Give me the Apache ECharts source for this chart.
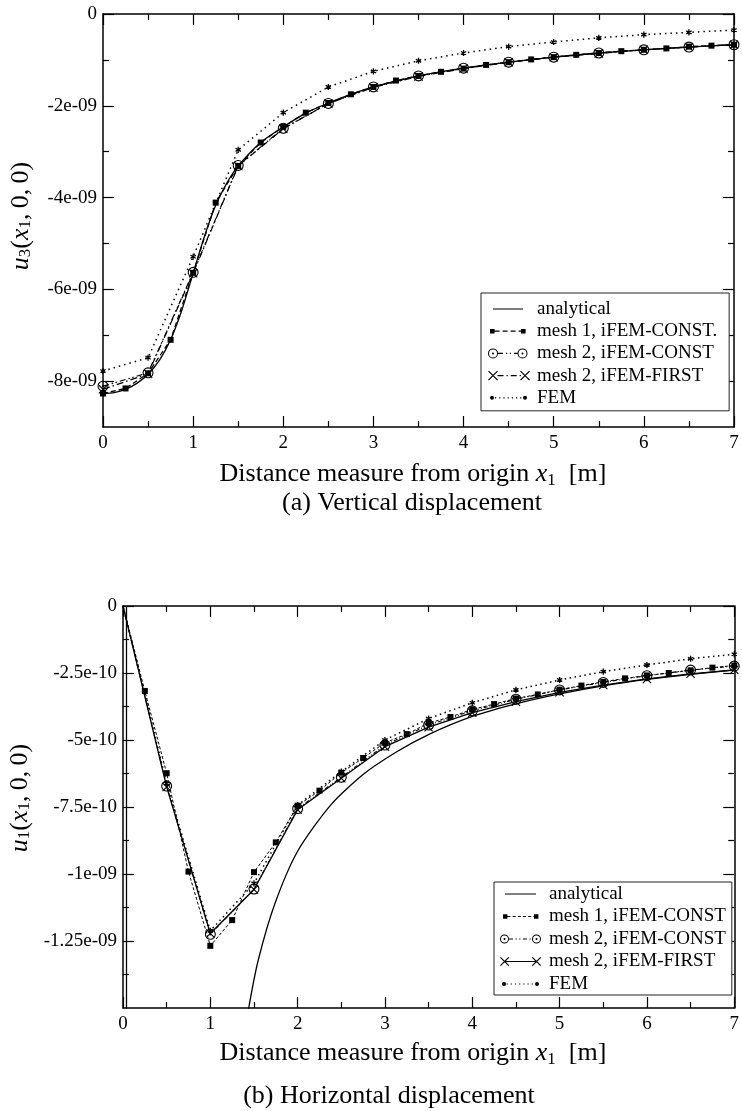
<!DOCTYPE html>
<html>
<head>
<meta charset="utf-8">
<script src="https://cdn.jsdelivr.net/npm/echarts@6/dist/echarts.min.js"></script>
<style>
  html, body { margin: 0; padding: 0; background: #fff; }
  #chartA { width: 742px; height: 555px; }
  #chartB { width: 742px; height: 556px; }
</style>
</head>
<body>
<div id="chartA"></div>
<div id="chartB"></div>
<script>
// ---------------- data ----------------
const xHalf = [0, 0.5, 1, 1.5, 2, 2.5, 3, 3.5, 4, 4.5, 5, 5.5, 6, 6.5, 7];
const xQuarter = [0, 0.25, 0.5, 0.75, 1, 1.25, 1.5, 1.75, 2, 2.25, 2.5, 2.75, 3, 3.25, 3.5,
                  3.75, 4, 4.25, 4.5, 4.75, 5, 5.25, 5.5, 5.75, 6, 6.25, 6.5, 6.75, 7];

// (a) vertical displacement u3(x1,0,0)
const vAnalyticalX = [0, 0.125, 0.25, 0.375, 0.5, 0.625, 0.75, 0.875, 1, 1.125, 1.25, 1.375, 1.5,
                      1.75, 2, 2.25, 2.5, 2.75, 3, 3.5, 4, 4.5, 5, 5.5, 6, 6.5, 7];
const vAnalytical = [-8.27e-9, -8.25e-9, -8.18e-9, -8.05e-9, -7.85e-9, -7.55e-9, -7.10e-9, -6.45e-9,
                     -5.65e-9, -4.85e-9, -4.17e-9, -3.68e-9, -3.31e-9, -2.80e-9, -2.46e-9, -2.16e-9,
                     -1.94e-9, -1.75e-9, -1.59e-9, -1.35e-9, -1.18e-9, -1.05e-9, -0.94e-9, -0.85e-9,
                     -0.78e-9, -0.72e-9, -0.67e-9];
const vMesh1Const = [-8.27e-9, -8.16e-9, -7.83e-9, -7.10e-9, -5.64e-9, -4.11e-9, -3.31e-9, -2.80e-9,
                     -2.46e-9, -2.15e-9, -1.94e-9, -1.75e-9, -1.59e-9, -1.45e-9, -1.35e-9, -1.26e-9,
                     -1.19e-9, -1.11e-9, -1.05e-9, -0.99e-9, -0.94e-9, -0.89e-9, -0.85e-9, -0.81e-9,
                     -0.78e-9, -0.75e-9, -0.71e-9, -0.69e-9, -0.67e-9];
const vMesh2Const = [-8.11e-9, -7.82e-9, -5.63e-9, -3.30e-9, -2.49e-9, -1.95e-9, -1.59e-9, -1.35e-9,
                     -1.18e-9, -1.05e-9, -0.94e-9, -0.85e-9, -0.78e-9, -0.72e-9, -0.67e-9];
const vMesh2First = [-8.18e-9, -7.84e-9, -5.65e-9, -3.31e-9, -2.50e-9, -1.95e-9, -1.60e-9, -1.36e-9,
                     -1.19e-9, -1.05e-9, -0.94e-9, -0.86e-9, -0.78e-9, -0.72e-9, -0.67e-9];
const vFEM = [-7.78e-9, -7.49e-9, -5.29e-9, -2.96e-9, -2.15e-9, -1.59e-9, -1.25e-9, -1.02e-9,
              -0.85e-9, -0.71e-9, -0.61e-9, -0.52e-9, -0.45e-9, -0.40e-9, -0.35e-9];

// (b) horizontal displacement u1(x1,0,0)
const hAnalyticalX = [0.04, 0.05, 0.25, 0.5, 1, 1.25, 1.44, 1.55, 1.74, 2, 2.38, 2.76, 3.14, 3.51,
                      4, 4.5, 5, 5.5, 6, 6.5, 7];
const hAnalytical = [0, -3.0e-8, -7.5e-9, -4.5e-9, -2.5e-9, -1.88e-9, -1.50e-9, -1.32e-9, -1.11e-9,
                     -0.915e-9, -0.742e-9, -0.626e-9, -0.543e-9, -0.478e-9, -0.412e-9, -0.365e-9,
                     -0.328e-9, -0.298e-9, -0.274e-9, -0.255e-9, -0.239e-9];
const hMesh1Const = [0, -0.317e-9, -0.624e-9, -0.991e-9, -1.268e-9, -1.172e-9, -0.993e-9, -0.882e-9,
                     -0.745e-9, -0.689e-9, -0.622e-9, -0.567e-9, -0.510e-9, -0.478e-9, -0.437e-9,
                     -0.414e-9, -0.386e-9, -0.366e-9, -0.345e-9, -0.330e-9, -0.312e-9, -0.297e-9,
                     -0.283e-9, -0.270e-9, -0.259e-9, -0.250e-9, -0.240e-9, -0.230e-9, -0.222e-9];
const hMesh2Const = [0, -0.672e-9, -1.225e-9, -1.056e-9, -0.756e-9, -0.639e-9, -0.519e-9, -0.444e-9,
                     -0.391e-9, -0.348e-9, -0.313e-9, -0.285e-9, -0.260e-9, -0.239e-9, -0.224e-9];
const hMesh2First = [0, -0.675e-9, -1.222e-9, -1.058e-9, -0.760e-9, -0.643e-9, -0.525e-9, -0.452e-9,
                     -0.398e-9, -0.357e-9, -0.322e-9, -0.295e-9, -0.272e-9, -0.253e-9, -0.238e-9];
const hFEM = [0, -0.662e-9, -1.212e-9, -1.035e-9, -0.743e-9, -0.618e-9, -0.500e-9, -0.420e-9,
              -0.361e-9, -0.313e-9, -0.276e-9, -0.245e-9, -0.220e-9, -0.197e-9, -0.180e-9];

// tick values
const xMajorTicks = [0, 1, 2, 3, 4, 5, 6, 7];
const xMinorTicks = [0.5, 1.5, 2.5, 3.5, 4.5, 5.5, 6.5];
const vMajorTicks = [0, -2e-9, -4e-9, -6e-9, -8e-9];
const vMinorTicks = [-1e-9, -3e-9, -5e-9, -7e-9];
const hMajorTicks = [0, -2.5e-10, -5e-10, -7.5e-10, -1e-9, -1.25e-9];
const hMinorTicks = [-1.25e-10, -3.75e-10, -6.25e-10, -8.75e-10, -1.125e-9, -1.375e-9];

// ---------------- helpers ----------------
const SERIF = 'Liberation Serif';
const INK = '#000';

function fmtSci(v) {
  if (Math.abs(v) < 1e-20) return '0';
  const s = Number(v.toPrecision(6)).toExponential();
  return s.replace(/e([+-])(\d+)$/, (m, sign, d) => 'e' + sign + (d.length < 2 ? '0' + d : d));
}

function rectP(x, y, w, h) {
  return `M${x},${y}L${x + w},${y}L${x + w},${y + h}L${x},${y + h}Z`;
}
function circleP(cx, cy, r, ccw) {
  const sw = ccw ? 0 : 1;
  return `M${cx},${cy - r}A${r},${r} 0 1,${sw} ${cx},${cy + r}A${r},${r} 0 1,${sw} ${cx},${cy - r}Z`;
}
function ringP(cx, cy, r, t, dot) {
  let s = circleP(cx, cy, r, false) + circleP(cx, cy, r - t, true);
  if (dot) s += circleP(cx, cy, dot, false);
  return s;
}
function barP(cx, cy, len, t, ang) {
  const ux = Math.cos(ang), uy = Math.sin(ang), nx = -uy, ny = ux;
  const a = len / 2, b = t / 2;
  const p = [
    [cx - ux * a - nx * b, cy - uy * a - ny * b],
    [cx + ux * a - nx * b, cy + uy * a - ny * b],
    [cx + ux * a + nx * b, cy + uy * a + ny * b],
    [cx - ux * a + nx * b, cy - uy * a + ny * b]
  ];
  return 'M' + p.map(q => q[0].toFixed(3) + ',' + q[1].toFixed(3)).join('L') + 'Z';
}
function crossP(cx, cy, half, t) {
  const len = half * 2 * Math.SQRT2;
  return barP(cx, cy, len, t, Math.PI / 4) + barP(cx, cy, len, t, -Math.PI / 4);
}
function starP(cx, cy, len, t) {
  return barP(cx, cy, len, t, Math.PI / 2) + barP(cx, cy, len, t, Math.PI / 6) + barP(cx, cy, len, t, -Math.PI / 6);
}
function dashP(x0, x1, cy, t, pattern) {
  let s = '', x = x0, i = 0;
  while (x < x1 - 0.01) {
    const len = pattern[i % pattern.length];
    if (i % 2 === 0) s += rectP(x, cy - t / 2, Math.min(x + len, x1) - x, t);
    x += len; i++;
  }
  return s;
}
// tiny corner marks fix the icon's bounding box so that it is drawn at 1:1
function frameP(w, h) {
  return `M0,0L0.02,0L0,0.02Z M${w},${h}L${w - 0.02},${h}L${w},${h - 0.02}Z`;
}

// plot markers
const SYM_RING = 'path://' + ringP(5.5, 5.5, 5.5, 1.1, 1.1);
const SYM_CROSS = 'path://' + crossP(5, 5, 5, 1.3);
const SYM_STAR = 'path://' + frameP(8, 8) + starP(4, 4, 7, 1.5);

function zip(xs, ys) { return xs.map((x, i) => [x, ys[i]]); }
// same, with no marker on the shared starting point at the origin
function zipNoOrigin(xs, ys) {
  return xs.map((x, i) => (x === 0 && ys[i] === 0) ? { value: [x, ys[i]], symbol: 'none' } : [x, ys[i]]);
}

function frameAxes(dim, min, max, step, majors, minors, labelVals, labelFmt, labelMargin) {
  const sides = dim === 'x' ? ['bottom', 'top'] : ['left', 'right'];
  const axes = [];
  sides.forEach((side, k) => {
    axes.push({
      type: 'value', position: side, min: min, max: max, interval: step,
      axisLine: { show: true, onZero: false, lineStyle: { color: INK, width: 1.5 } },
      axisTick: { show: true, inside: true, length: 11, customValues: majors, lineStyle: { color: INK, width: 1.2 } },
      axisLabel: {
        show: k === 0, customValues: labelVals, formatter: labelFmt, margin: labelMargin,
        color: INK, fontFamily: SERIF, fontSize: 19
      },
      splitLine: { show: false }
    });
    axes.push({
      type: 'value', position: side, min: min, max: max, interval: step,
      axisLine: { show: false, onZero: false },
      axisTick: { show: true, inside: true, length: 6, customValues: minors, lineStyle: { color: INK, width: 1.2 } },
      axisLabel: { show: false },
      splitLine: { show: false }
    });
  });
  return axes;
}

function line(name, data, opt) {
  return Object.assign({
    type: 'line', name: name, data: data,
    xAxisIndex: 0, yAxisIndex: 0,
    showSymbol: true, showAllSymbol: true,
    symbol: 'none', symbolSize: 6,
    itemStyle: { color: INK, borderWidth: 0 },
    lineStyle: { color: INK, width: 1.3, type: 'solid' },
    emphasis: { disabled: true }, silent: true, animation: false, clip: true, z: 3
  }, opt);
}

const richMath = {
  i: { fontStyle: 'italic', fontFamily: SERIF, fontSize: 26 },
  s: { fontFamily: SERIF, fontSize: 17, verticalAlign: 'bottom', lineHeight: 12 }
};

function legendBlock(names, icons, pos) {
  return {
    show: true, orient: 'vertical', selectedMode: false,
    left: pos.left, top: pos.top, padding: pos.padding,
    itemWidth: pos.w, itemHeight: pos.h, itemGap: pos.gap,
    backgroundColor: '#fff', borderColor: '#222', borderWidth: 1, borderRadius: 0,
    itemStyle: { color: INK, borderWidth: 0 },
    textStyle: { color: INK, fontFamily: SERIF, fontSize: 19, lineHeight: 22 },
    data: names.map((n, i) => ({ name: n, icon: 'path://' + frameP(pos.w, pos.h) + icons[i] })),
    z: 10
  };
}

function captionTitle(text, cx, top) {
  return {
    text: text, left: cx, top: top, textAlign: 'center', padding: 0,
    textStyle: { color: INK, fontFamily: SERIF, fontSize: 26, fontWeight: 'normal', lineHeight: 30, rich: richMath }
  };
}

function yName(text, x, y) {
  return {
    type: 'text', x: x, y: y, rotation: Math.PI / 2, silent: true,
    style: {
      text: text, fill: INK, fontFamily: SERIF, fontSize: 26,
      align: 'center', verticalAlign: 'middle', rich: richMath
    }
  };
}

const AXIS_TITLE = 'Distance measure from origin {i|x}{s|1}  [m]';

// ---------------- (a) vertical displacement ----------------
const namesA = ['analytical', 'mesh 1, iFEM-CONST.', 'mesh 2, iFEM-CONST', 'mesh 2, iFEM-FIRST', 'FEM'];
const iconsA = [
  rectP(5, 5.4, 30, 1.2),
  rectP(2, 3.7, 4.6, 4.6) + dashP(6.6, 33, 6, 1.2, [5, 3]) + rectP(33, 3.7, 4.6, 4.6),
  ringP(5, 6, 5, 1, 1) + dashP(10, 29.5, 6, 1.1, [5, 3, 1.2, 2.6, 1.2, 3]) + ringP(34.5, 6, 5, 1, 1),
  crossP(5, 6, 4.5, 1.2) + dashP(9.5, 33, 6, 1.1, [6, 3, 1.2, 3]) + crossP(37, 6, 4.5, 1.2),
  circleP(4, 6, 2, false) + dashP(7, 35, 6, 1.2, [1.2, 3]) + circleP(37, 6, 2, false)
];

const chartA = echarts.init(document.getElementById('chartA'), null, { renderer: 'canvas' });
chartA.setOption({
  backgroundColor: '#fff',
  animation: false,
  grid: { left: 103, right: 8, top: 14, bottom: 128 },
  xAxis: frameAxes('x', 0, 7, 0.5, xMajorTicks, xMinorTicks, xMajorTicks, v => String(v), 7),
  yAxis: frameAxes('y', -9e-9, 0, 1e-9, vMajorTicks, vMinorTicks, vMajorTicks, fmtSci, 6),
  legend: legendBlock(namesA, iconsA, { left: 481, top: 293, padding: [5, 12, 2, 7], w: 44, h: 12, gap: 0.2 }),
  title: [
    captionTitle(AXIS_TITLE, 413, 459),
    captionTitle('(a) Vertical displacement', 412, 488)
  ],
  graphic: [yName('{i|u}{s|3}({i|x}{s|1},\u20090,\u20090)', 21, 216)],
  series: [
    line(namesA[0], zip(vAnalyticalX, vAnalytical), { smooth: 0.25, z: 2, lineStyle: { color: INK, width: 1.3 } }),
    line(namesA[1], zip(xQuarter, vMesh1Const), { symbol: 'rect', symbolSize: 6, lineStyle: { color: INK, width: 1.3, type: [5, 3] } }),
    line(namesA[2], zip(xHalf, vMesh2Const), { symbol: SYM_RING, symbolSize: 11, lineStyle: { color: INK, width: 1.2, type: [6, 3, 1.5, 2.5, 1.5, 3] } }),
    line(namesA[3], zip(xHalf, vMesh2First), { symbol: SYM_CROSS, symbolSize: 9, lineStyle: { color: INK, width: 1.2, type: [7, 3, 1.5, 3] } }),
    line(namesA[4], zip(xHalf, vFEM), { symbol: SYM_STAR, symbolSize: 7, lineStyle: { color: INK, width: 1.5, type: [1.5, 4] } })
  ]
});

// ---------------- (b) horizontal displacement ----------------
const namesB = ['analytical', 'mesh 1, iFEM-CONST', 'mesh 2, iFEM-CONST', 'mesh 2, iFEM-FIRST', 'FEM'];
const iconsB = [
  rectP(5, 5.4, 31, 1.2),
  rectP(3, 3.8, 4.4, 4.4) + dashP(7.4, 34, 6, 1.1, [3, 2.2]) + rectP(34, 3.8, 4.4, 4.4),
  ringP(4.5, 6, 4.5, 1, 1) + dashP(9, 32, 6, 1.1, [4, 2.5, 1.2, 2.5, 1.2, 2.5]) + ringP(36.5, 6, 4.5, 1, 1),
  crossP(4.5, 6, 4.2, 1.2) + rectP(4.5, 5.4, 32, 1.2) + crossP(36.5, 6, 4.2, 1.2),
  circleP(4, 6, 2, false) + dashP(6.5, 35, 6, 1.2, [1.2, 3]) + circleP(37, 6, 2, false)
];

const chartB = echarts.init(document.getElementById('chartB'), null, { renderer: 'canvas' });
chartB.setOption({
  backgroundColor: '#fff',
  animation: false,
  grid: { left: 123, right: 2, top: 51, bottom: 103 },
  xAxis: frameAxes('x', 0, 7, 0.5, xMajorTicks, xMinorTicks, xMajorTicks, v => String(v), 7),
  yAxis: frameAxes('y', -1.5e-9, 0, 1.25e-10, hMajorTicks, hMinorTicks, hMajorTicks, fmtSci, 6),
  legend: legendBlock(namesB, iconsB, { left: 494, top: 327, padding: [1, 6, 0, 6], w: 44, h: 12, gap: 0.5 }),
  title: [
    captionTitle(AXIS_TITLE, 413, 483),
    captionTitle('(b) Horizontal displacement', 389, 526)
  ],
  graphic: [yName('{i|u}{s|1}({i|x}{s|1},\u20090,\u20090)', 20, 243)],
  series: [
    line(namesB[0], zip(hAnalyticalX, hAnalytical), { smooth: 0.25, z: 2, lineStyle: { color: INK, width: 1.3 } }),
    line(namesB[1], zipNoOrigin(xQuarter, hMesh1Const), { symbol: 'rect', symbolSize: 6, lineStyle: { color: INK, width: 1.0, type: [3, 2] } }),
    line(namesB[2], zipNoOrigin(xHalf, hMesh2Const), { symbol: SYM_RING, symbolSize: 11, lineStyle: { color: INK, width: 1.1, type: [4, 2, 1, 2, 1, 2] } }),
    line(namesB[3], zipNoOrigin(xHalf, hMesh2First), { symbol: SYM_CROSS, symbolSize: 9, lineStyle: { color: INK, width: 1.3 } }),
    line(namesB[4], zipNoOrigin(xHalf, hFEM), { symbol: SYM_STAR, symbolSize: 7, lineStyle: { color: INK, width: 1.5, type: [1.5, 3.5] } })
  ]
});
</script>
</body>
</html>
